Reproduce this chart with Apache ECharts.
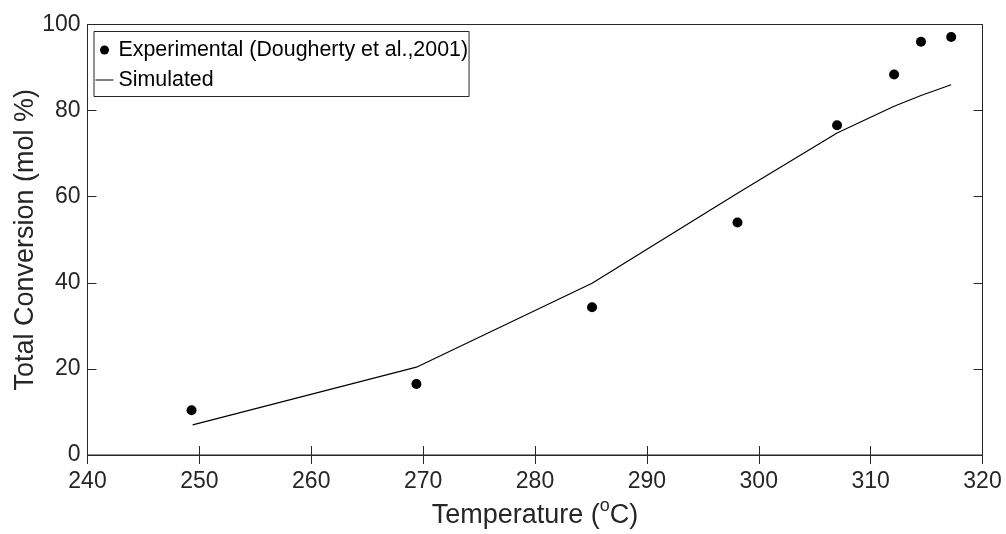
<!DOCTYPE html>
<html><head><meta charset="utf-8">
<script src="https://cdn.jsdelivr.net/npm/echarts@6/dist/echarts.min.js"></script>
<style>html,body{margin:0;padding:0;background:#fff}#c{width:1006px;height:534px}</style>
</head><body><div id="c"></div>
<script>
const expTemp = [249.3, 269.4, 285.1, 298.1, 307.0, 312.1, 314.5, 317.2];
const expConv = [10.4, 16.5, 34.3, 54.0, 76.6, 88.4, 96.0, 97.1];
const simTemp = [249.4, 269.4, 285.1, 298.1, 307.0, 312.1, 314.5, 317.2];
const simConv = [7.0, 20.4, 39.9, 60.8, 74.8, 81.0, 83.5, 86.0];
const xTicks = [240, 250, 260, 270, 280, 290, 300, 310, 320];
const yTicks = [0, 20, 40, 60, 80, 100];

const font = 'Arial, "Liberation Sans", Helvetica, sans-serif';
const axisColor = '#262626';
const chart = echarts.init(document.getElementById('c'));
const tickStyle = {show: true, inside: true, length: 9, lineStyle: {color: axisColor, width: 1}};
chart.setOption({
  animation: false,
  grid: {left: 87.5, right: 23.5, top: 24.5, bottom: 79, containLabel: false, outerBoundsMode: 'none',
         show: true, borderColor: axisColor, borderWidth: 1, backgroundColor: '#fff'},
  legend: {
    left: 94, top: 31.5, orient: 'vertical',
    backgroundColor: '#fff', borderColor: axisColor, borderWidth: 1,
    padding: [8, 1, 6, 1.5], itemGap: 9, itemWidth: 18, itemHeight: 9,
    textStyle: {fontFamily: font, fontSize: 21.4, color: '#000'},
    data: [
      {name: 'Experimental (Dougherty et al.,2001)', icon: 'circle', itemStyle: {color: '#000', opacity: 1}},
      {name: 'Simulated', icon: 'path://M0,0 L18,0 L18,1 L0,1 Z', itemStyle: {color: '#000'}}
    ]
  },
  xAxis: [{
    type: 'value', min: xTicks[0], max: xTicks[xTicks.length - 1], interval: 10,
    axisLine: {show: true, lineStyle: {color: axisColor}}, axisTick: tickStyle,
    splitLine: {show: false},
    axisLabel: {fontFamily: font, fontSize: 23, color: axisColor, margin: 15},
    name: '{a|Temperature (}{s|o}{a|C)}', nameLocation: 'middle', nameGap: 37, nameMoveOverlap: false,
    nameTextStyle: {rich: {a: {fontFamily: font, fontSize: 27, color: axisColor, padding: [10, 0, 0, 0]}, s: {fontFamily: font, fontSize: 18, color: axisColor, padding: [0, 0, 8, 0]}}}
  }, {
    type: 'value', position: 'top', min: xTicks[0], max: xTicks[xTicks.length - 1], interval: 10,
    axisLine: {show: true, lineStyle: {color: axisColor}}, axisTick: tickStyle,
    axisLabel: {show: false}, splitLine: {show: false}
  }],
  yAxis: [{
    type: 'value', min: yTicks[0], max: yTicks[yTicks.length - 1], interval: 20,
    axisLine: {show: true, lineStyle: {color: axisColor}}, axisTick: tickStyle,
    splitLine: {show: false},
    axisLabel: {fontFamily: font, fontSize: 23, color: axisColor, margin: 7},
    name: 'Total Conversion (mol %)', nameLocation: 'middle', nameGap: 48, nameMoveOverlap: false,
    nameTextStyle: {fontFamily: font, fontSize: 27, color: axisColor}
  }, {
    type: 'value', position: 'right', min: yTicks[0], max: yTicks[yTicks.length - 1], interval: 20,
    axisLine: {show: true, lineStyle: {color: axisColor}}, axisTick: tickStyle,
    axisLabel: {show: false}, splitLine: {show: false}
  }],
  series: [{
    name: 'Experimental (Dougherty et al.,2001)', type: 'scatter',
    data: expTemp.map((t, i) => [t, expConv[i]]),
    symbol: 'circle', symbolSize: 10, itemStyle: {color: '#000', opacity: 1}, z: 5
  }, {
    name: 'Simulated', type: 'line',
    data: simTemp.map((t, i) => [t, simConv[i]]),
    showSymbol: false, symbol: 'none', lineStyle: {color: '#000', width: 1.2}, itemStyle: {color: '#000'}
  }]
});
</script></body></html>
